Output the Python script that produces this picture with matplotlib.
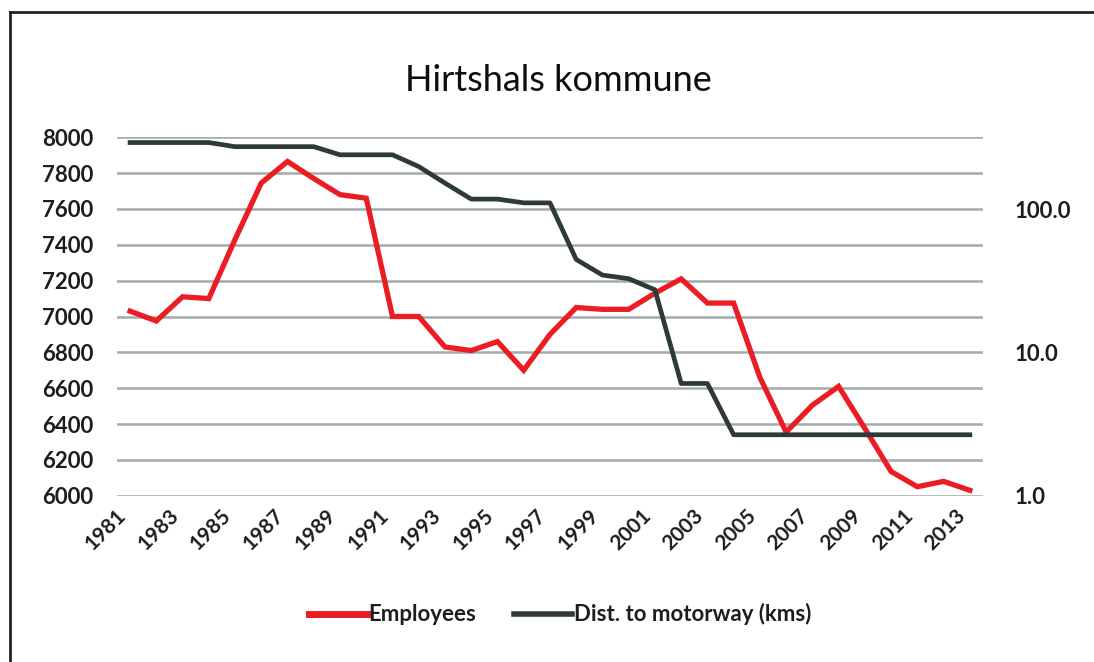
import numpy as np
import matplotlib
matplotlib.use("Agg")
import matplotlib.pyplot as plt
from matplotlib.lines import Line2D

# ========== DATA ==========
years = list(range(1981, 2014))
employees = [7030, 6975, 7110, 7100, 7430, 7745, 7865, 7770, 7680, 7660,
             7000, 7000, 6830, 6810, 6860, 6700, 6900, 7050, 7040, 7040,
             7130, 7210, 7075, 7075, 6660, 6355, 6505, 6610, 6375, 6135,
             6050, 6080, 6030]
dist_motorway = [296, 296, 296, 296, 277, 277, 277, 277, 243, 243,
                 243, 201, 154, 119, 119, 112, 112, 45, 35, 33,
                 27.6, 6.1, 6.1, 2.67, 2.67, 2.67, 2.67, 2.67, 2.67, 2.67,
                 2.67, 2.67, 2.67]
year_ticks = list(range(1981, 2014, 2))
left_ticks = list(range(6000, 8001, 200))
right_ticks = [1, 10, 100]
right_labels = ["1.0", "10.0", "100.0"]

RED = "#ec1c24"
DARK = "#2e3a3a"
GRID = "#a3abab"
TXT = "#1a1e1e"
FONT = "Lato"

# ========== FIGURE ==========
fig = plt.figure(figsize=(10.94, 6.62), dpi=100)
ax = fig.add_axes([0.1069, 0.2512, 0.7916, 0.5414])
ax2 = ax.twinx()

ax.plot(years, employees, color=RED, lw=3.8, solid_joinstyle="miter")
ax2.plot(years, dist_motorway, color=DARK, lw=3.4)

ax.set_xlim(1980.5, 2013.5)
ax.set_ylim(6000, 8000)
ax2.set_yscale("log")
ax2.set_ylim(1, 10 ** 2.508)

ax.set_yticks(left_ticks)
ax.set_yticklabels([str(t) for t in left_ticks], fontfamily=FONT,
                   fontweight="bold", fontsize=16, color=TXT)
ax.set_xticks(year_ticks)
ax.set_xticklabels([str(y) for y in year_ticks], rotation=45, ha="right",
                   va="top", fontfamily=FONT, fontweight="bold",
                   fontsize=15, color=TXT)
ax.tick_params(axis="y", length=0, pad=17)
ax.tick_params(axis="x", length=0, pad=7)

ax2.set_yticks(right_ticks)
ax2.set_yticklabels(right_labels, fontfamily=FONT, fontweight="bold",
                    fontsize=16, color=TXT)
ax2.yaxis.set_minor_locator(matplotlib.ticker.NullLocator())
ax2.tick_params(axis="y", length=0, pad=23)

ax.grid(axis="y", color=GRID, lw=1.8)
ax.set_axisbelow(True)
for a in (ax, ax2):
    for s in a.spines.values():
        s.set_visible(False)

fig.text(0.51, 0.879, "Hirtshals kommune", ha="center", va="center",
         fontfamily=FONT, fontsize=26, color="#0d0f0f")

handles = [Line2D([], [], color=RED, lw=5),
           Line2D([], [], color=DARK, lw=4)]
fig.legend(handles, ["Employees", "Dist. to motorway (kms)"],
           loc="center", bbox_to_anchor=(0.512, 0.072), ncol=2, frameon=False,
           handlelength=2.6, handletextpad=0.08, columnspacing=1.7,
           prop={"family": FONT, "size": 16, "weight": "bold"})
for t in fig.legends[0].get_texts():
    t.set_color(TXT)

# outer frame (only left and top edges visible in the crop)
fig.add_artist(Line2D([0.0091, 0.0091], [0, 0.982], color="#222222", lw=2,
                      transform=fig.transFigure))
fig.add_artist(Line2D([0.0091, 1], [0.982, 0.982], color="#222222", lw=2,
                      transform=fig.transFigure))

fig.savefig("out.png", dpi=100)
